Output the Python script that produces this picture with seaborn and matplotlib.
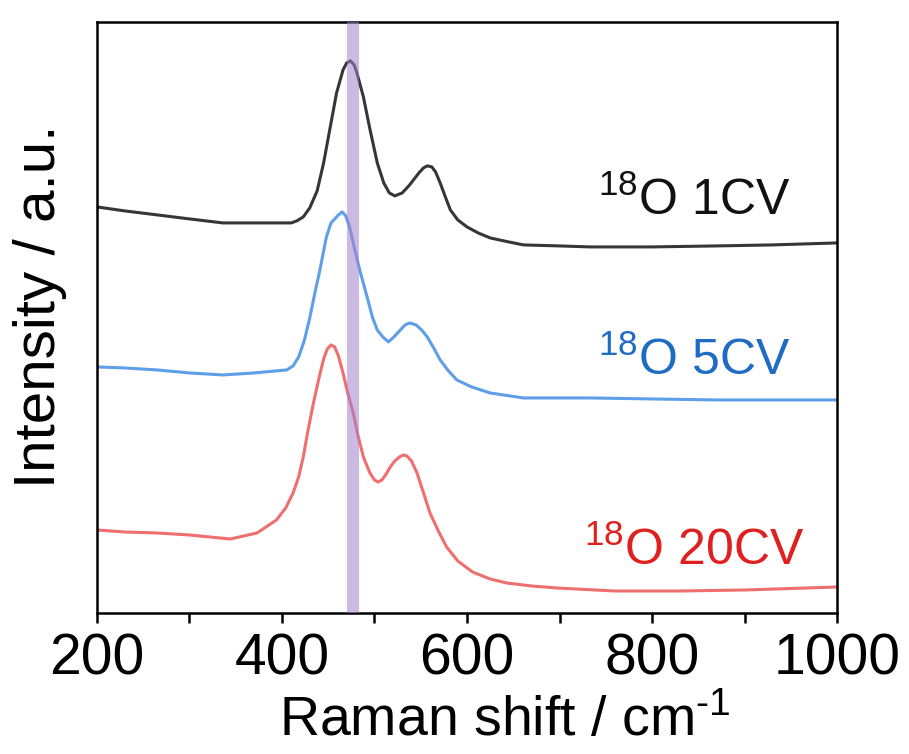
import numpy as np
import pandas as pd
import matplotlib
matplotlib.use("Agg")
import matplotlib.pyplot as plt
import seaborn as sns

# ---- data (arbitrary intensity units) ----
x_1cv = [200, 230, 265, 300, 336, 380, 410, 416, 423, 430, 438, 445, 452, 459, 466, 470, 474,
         478, 481, 488, 495, 503, 510, 516, 522, 530, 538, 548, 553, 557, 562, 566, 571, 577,
         582, 590, 600, 612, 625, 645, 661, 700, 733, 800, 870, 930, 1000]
y_1cv = [406, 402, 398, 394, 390, 390, 390, 392, 396, 405, 422, 450, 485, 520, 543, 550, 552,
         548, 540, 516, 484, 450, 430, 420, 417, 420, 428, 440, 445, 447, 446, 441, 430, 415,
         403, 393, 386, 380, 375, 371, 368, 367, 366, 366, 367, 368, 370]

x_5cv = [200, 230, 265, 300, 336, 370, 405, 412, 418, 424, 430, 436, 441, 448, 453, 457, 461,
         465, 469, 473, 477, 484, 492, 498, 503, 509, 515, 521, 528, 533, 538, 545, 551, 557,
         564, 571, 580, 589, 605, 625, 661, 733, 800, 870, 930, 1000]
y_5cv = [246, 245, 243, 240, 238, 240, 243, 247, 256, 272, 295, 322, 343, 376, 390, 394, 398,
         401, 397, 386, 370, 343, 316, 295, 283, 276, 271, 276, 283, 288, 290, 288, 283, 276,
         265, 253, 242, 233, 226, 220, 215, 215, 214, 213, 213, 213]

x_20cv = [200, 230, 265, 300, 344, 373, 394, 404, 412, 418, 423, 428, 434, 440, 445, 449, 453,
          457, 461, 466, 471, 477, 482, 488, 495, 500, 504, 508, 512, 517, 522, 527, 531, 535,
          540, 546, 553, 560, 569, 578, 590, 606, 625, 643, 670, 697, 760, 830, 900, 1000]
y_20cv = [83, 81, 80, 78, 74, 80, 93, 105, 120, 136, 156, 182, 210, 235, 254, 264, 268,
          266, 257, 240, 220, 200, 178, 156, 140, 133, 131, 133, 138, 146, 152, 156, 158, 157,
          152, 140, 120, 100, 82, 66, 52, 41, 34, 30, 27, 25, 22, 22, 23, 26]

series_names = ["1CV", "5CV", "20CV"]
label_texts = [r"$\mathregular{^{18}}$O 1CV", r"$\mathregular{^{18}}$O 5CV", r"$\mathregular{^{18}}$O 20CV"]
label_y = [398, 238, 48]
label_x = [846, 846, 846]
band_range = [470, 483]
x_ticks = [200, 400, 600, 800, 1000]
x_minor_ticks = [300, 500, 700, 900]

line_colors = ["#363636", "#5f9ee8", "#ef6e6e"]
text_colors = ["#111111", "#1f6cc4", "#e0201e"]

frames = []
for name, xs, ys in zip(series_names, [x_1cv, x_5cv, x_20cv], [y_1cv, y_5cv, y_20cv]):
    frames.append(pd.DataFrame({"shift": xs, "intensity": ys, "sample": name}))
df = pd.concat(frames, ignore_index=True)

# ---- style ----
sns.set_theme(style="white")
plt.rcParams["font.family"] = ["Liberation Sans", "DejaVu Sans"]
plt.rcParams["mathtext.fontset"] = "custom"
plt.rcParams["mathtext.rm"] = "Liberation Sans"
plt.rcParams["mathtext.it"] = "Liberation Sans:italic"
plt.rcParams["mathtext.bf"] = "Liberation Sans:bold"
plt.rcParams["text.color"] = "black"
plt.rcParams["axes.labelcolor"] = "black"

fig = plt.figure(figsize=(9.09, 7.54), dpi=100)
ax = fig.add_axes([0.1067, 0.187, 0.8141, 0.784])

sns.lineplot(data=df, x="shift", y="intensity", hue="sample", palette=line_colors,
             hue_order=series_names, sort=False, estimator=None, linewidth=2.2,
             legend=False, ax=ax)

ax.axvspan(band_range[0], band_range[1], color="#a382cd", alpha=0.55, lw=0, zorder=5)

for txt, xx, yy, c in zip(label_texts, label_x, label_y, text_colors):
    ax.text(xx, yy, txt, color=c, fontsize=36, ha="center", va="baseline")

ax.set_xlim(200, 1000)
ax.set_ylim(0, 591)
ax.set_xticks(x_ticks)
ax.set_xticks(x_minor_ticks, minor=True)
ax.set_yticks([])
ax.tick_params(axis="x", which="both", direction="out", length=7, width=1.8,
               labelsize=41, bottom=True, pad=7, colors="black")
for s in ax.spines.values():
    s.set_linewidth(1.8)
    s.set_color("black")

ax.set_xlabel(r"Raman shift / cm$\mathregular{^{\text{-}1}}$", fontsize=40, labelpad=6)
ax.xaxis.label.set_x(0.551)
ax.set_ylabel("Intensity / a.u.", fontsize=42)
ax.yaxis.set_label_coords(-0.041, 0.519)

fig.savefig("out.png", dpi=100)
